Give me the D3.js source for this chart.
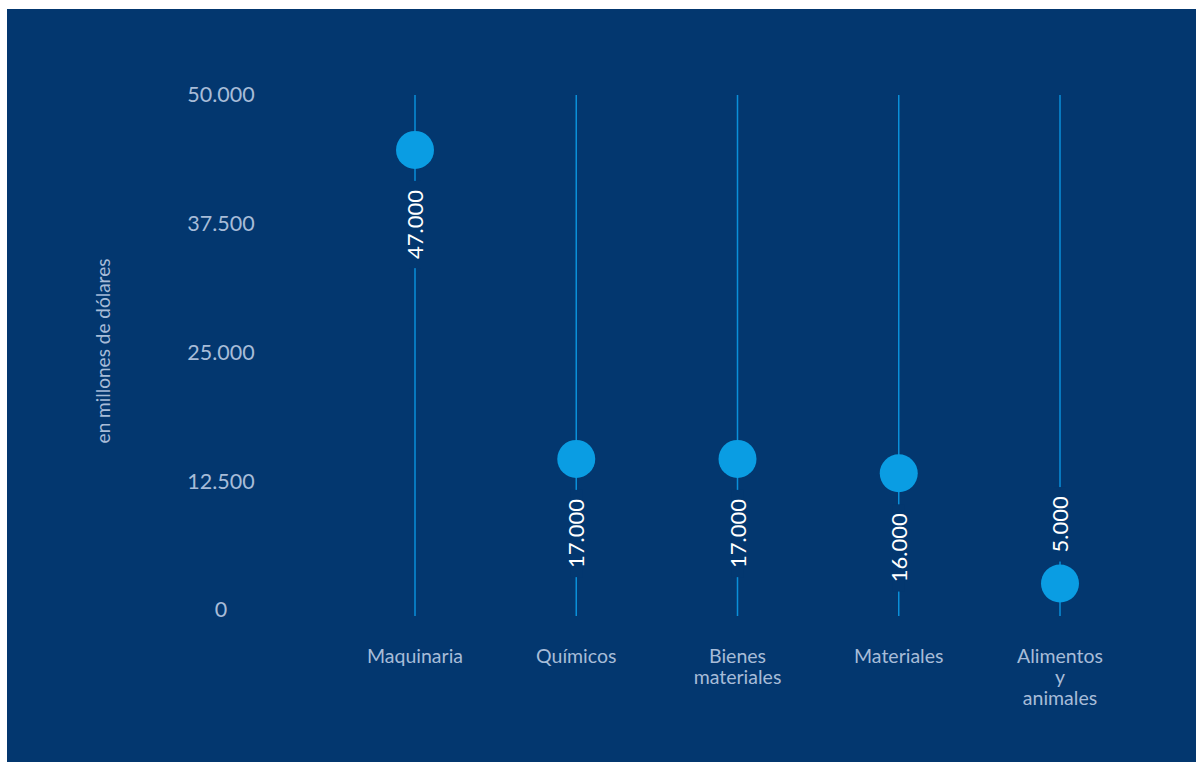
<!DOCTYPE html>
<html>
<head>
<meta charset="utf-8">
<script src="https://cdn.jsdelivr.net/npm/d3@7"></script>
<style>
  html, body { margin: 0; padding: 0; background: #ffffff; }
  svg { display: block; }
  text { font-family: Lato, "Noto Sans", sans-serif; }
</style>
</head>
<body>
<svg id="chart" width="1198" height="762"></svg>
<script>
// ---- data ----
const categories = ["Maquinaria", "Químicos", "Bienes materiales", "Materiales", "Alimentos y animales"];
const categoryLines = [["Maquinaria"], ["Químicos"], ["Bienes", "materiales"], ["Materiales"], ["Alimentos", "y", "animales"]];
const values = [47000, 17000, 17000, 15600, 4900];
const valueLabels = ["47.000", "17.000", "17.000", "16.000", "5.000"];
const yTicks = [0, 12500, 25000, 37500, 50000];
const yTitle = "en millones de dólares";

// ---- layout ----
const W = 1198, H = 762;
const bg = "#03376f";
const svg = d3.select("#chart");

svg.append("rect").attr("x", 7).attr("y", 9).attr("width", W - 9).attr("height", H - 9).attr("fill", bg);

const x = d3.scalePoint().domain(categories).range([415, 1060]);
const y = d3.scaleLinear().domain([0, 50000]).range([610, 95]);

const locale = d3.formatLocale({ decimal: ",", thousands: ".", grouping: [3], currency: ["", "€"] });
const fmt = locale.format(",d");

// y axis (labels only, centred)
const yAxis = d3.axisLeft(y).tickValues(yTicks).tickFormat(fmt).tickSize(0).tickPadding(0);
const gy = svg.append("g").attr("transform", "translate(221,0)").call(yAxis);
gy.select(".domain").remove();
gy.selectAll("text")
  .attr("text-anchor", "middle")
  .attr("fill", "#a7bcd8")
  .style("font-size", "21.5px")
  .style("font-family", "Lato, 'Noto Sans', sans-serif");

// y title
svg.append("text")
  .attr("transform", "translate(110,351) rotate(-90)")
  .attr("text-anchor", "middle")
  .attr("fill", "#a7bcd8")
  .style("font-size", "19px")
  .text(yTitle);

// x axis labels
const gx = svg.append("g");
categories.forEach((c, i) => {
  const t = gx.append("text")
    .attr("x", x(c))
    .attr("y", 663)
    .attr("text-anchor", "middle")
    .attr("fill", "#a7bcd8")
    .style("font-size", "19.5px");
  categoryLines[i].forEach((ln, j) => {
    t.append("tspan").attr("x", x(c)).attr("dy", j === 0 ? 0 : 21).text(ln);
  });
});

// stems
const stems = svg.append("g");
categories.forEach(c => {
  stems.append("line")
    .attr("x1", x(c)).attr("x2", x(c))
    .attr("y1", y(50000)).attr("y2", y(0) + 6)
    .attr("stroke", "#0a8fd9")
    .attr("stroke-width", 1.5);
});

// points and labels
const circleOffset = 24;
const marks = svg.append("g");
categories.forEach((c, i) => {
  const cx = x(c);
  const cy = y(values[i]) + circleOffset;
  const below = values[i] >= 10000;
  const g = marks.append("g");
  const lab = g.append("text")
    .attr("transform", `translate(${cx + 8},${below ? cy + 40 : cy - 31}) rotate(-90)`)
    .attr("text-anchor", below ? "end" : "start")
    .attr("fill", "#ffffff")
    .style("font-size", "22px")
    .text(valueLabels[i]);
  const bb = lab.node().getBBox();
  const len = bb.width;
  const top = below ? cy + 40 - 9 : cy - 31 - len - 9;
  g.insert("rect", "text")
    .attr("x", cx - 6).attr("width", 12)
    .attr("y", top).attr("height", len + 18)
    .attr("fill", bg);
  g.append("circle")
    .attr("cx", cx).attr("cy", cy).attr("r", 19)
    .attr("fill", "#0a9de3");
});
</script>
</body>
</html>
